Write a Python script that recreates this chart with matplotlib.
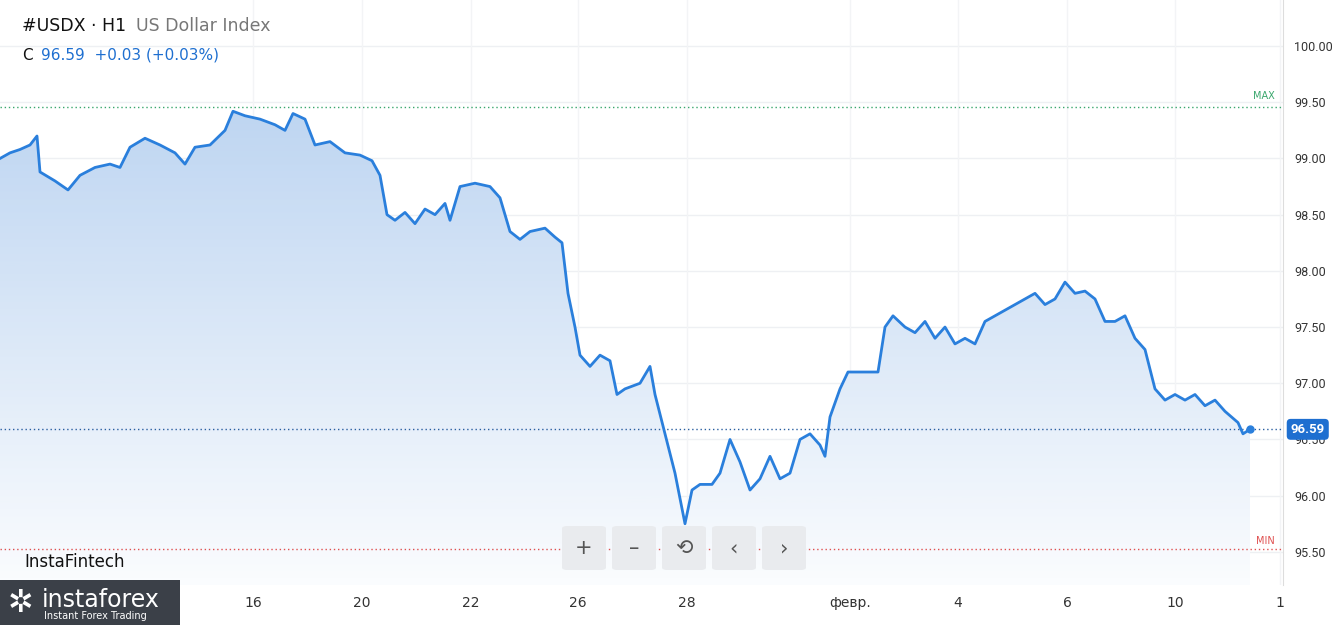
import matplotlib.pyplot as plt
import numpy as np
from matplotlib.patches import FancyBboxPatch

# time position (chart units, ~2.25 per hour) and close values
t = [0, 10, 20, 30, 37, 40, 55, 68, 80, 95, 110, 120, 130, 145, 160, 175, 185, 195, 210, 225,
     233, 245, 260, 275, 285, 293, 305, 315, 330, 345, 360, 372, 380, 387, 395, 405, 415, 425, 435, 445,
     450, 460, 475, 490, 500, 510, 520, 530, 545, 555, 562, 568, 575, 580, 590, 600, 610, 617, 625, 640,
     650, 655, 665, 675, 685, 692, 700, 712, 720, 730, 740, 750, 760, 770, 780, 790, 800, 810, 820, 825,
     830, 840, 848, 860, 878, 885, 893, 905, 915, 925, 935, 945, 955, 965, 975, 985, 995, 1005, 1015, 1025,
     1035, 1045, 1055, 1065, 1075, 1085, 1095, 1105, 1115, 1125, 1135, 1145, 1155, 1165, 1175, 1185, 1195, 1205, 1215, 1225,
     1238, 1243, 1250]
price = [99.0, 99.05, 99.08, 99.12, 99.2, 98.88, 98.8, 98.72, 98.85, 98.92, 98.95, 98.92, 99.1, 99.18, 99.12, 99.05, 98.95, 99.1, 99.12, 99.25,
         99.42, 99.38, 99.35, 99.3, 99.25, 99.4, 99.35, 99.12, 99.15, 99.05, 99.03, 98.98, 98.85, 98.5, 98.45, 98.52, 98.42, 98.55, 98.5, 98.6,
         98.45, 98.75, 98.78, 98.75, 98.65, 98.35, 98.28, 98.35, 98.38, 98.3, 98.25, 97.8, 97.5, 97.25, 97.15, 97.25, 97.2, 96.9, 96.95, 97.0,
         97.15, 96.9, 96.55, 96.2, 95.75, 96.05, 96.1, 96.1, 96.2, 96.5, 96.3, 96.05, 96.15, 96.35, 96.15, 96.2, 96.5, 96.55, 96.45, 96.35,
         96.7, 96.95, 97.1, 97.1, 97.1, 97.5, 97.6, 97.5, 97.45, 97.55, 97.4, 97.5, 97.35, 97.4, 97.35, 97.55, 97.6, 97.65, 97.7, 97.75,
         97.8, 97.7, 97.75, 97.9, 97.8, 97.82, 97.75, 97.55, 97.55, 97.6, 97.4, 97.3, 96.95, 96.85, 96.9, 96.85, 96.9, 96.8, 96.85, 96.75,
         96.65, 96.55, 96.59]
xtick_pos = [253, 362, 471, 578, 687, 850, 958, 1067, 1175, 1280]
xtick_lab = ["16", "20", "22", "26", "28", "февр.", "4", "6", "10", "1"]
yticks = [95.5, 96.0, 96.5, 97.0, 97.5, 98.0, 98.5, 99.0, 99.5, 100.0]
max_v, min_v, last = 99.46, 95.525, 96.59

fig = plt.figure(figsize=(13.38, 6.25), dpi=100)
ax = fig.add_axes([0, 40 / 625, 1283 / 1338, 585 / 625])
ymin, ymax = 95.205, 100.41
ax.set_xlim(0, 1283)
ax.set_ylim(ymin, ymax)

# gradient fill under the line
grad = np.linspace(0.02, 0.35, 256).reshape(-1, 1)
img = ax.imshow(grad, extent=[0, 1283, ymin, ymax], origin="lower", aspect="auto",
                cmap=plt.matplotlib.colors.LinearSegmentedColormap.from_list("b", ["#ffffff", "#1e6fd0"]),
                vmin=0, vmax=1, zorder=1)
poly = ax.fill_between(t, price, ymin, color="none")
img.set_clip_path(poly.get_paths()[0], transform=ax.transData)
ax.plot(t, price, color="#2a7fdc", lw=2, zorder=3)
ax.plot(t[-1], price[-1], "o", color="#2a7fdc", ms=5, zorder=4)

for y in yticks:
    ax.axhline(y, color="#eef0f3", lw=1, zorder=0)
for x in xtick_pos:
    ax.axvline(x, color="#f3f4f6", lw=1, zorder=0)
ax.axhline(max_v, color="#3aa76d", lw=1, ls=(0, (1, 2)), zorder=2)
ax.axhline(min_v, color="#e05050", lw=1, ls=(0, (1, 2)), zorder=2)
ax.axhline(last, color="#2a5fa0", lw=1, ls=(0, (1, 2)), zorder=2)
ax.text(1275, max_v + 0.05, "MAX", color="#3aa76d", fontsize=7, ha="right", va="bottom")
ax.text(1275, min_v + 0.03, "MIN", color="#e05050", fontsize=7, ha="right", va="bottom")

ax.yaxis.tick_right()
ax.set_yticks(yticks)
ax.set_yticklabels([f"{v:.2f}" for v in yticks], fontsize=9, color="#333333", family="Roboto")
ax.set_xticks(xtick_pos)
ax.set_xticklabels(xtick_lab, fontsize=10, color="#333333")
ax.tick_params(axis="x", length=0, pad=8)
ax.tick_params(axis="y", length=0, pad=8)
for s in ["top", "left", "bottom"]:
    ax.spines[s].set_visible(False)
ax.spines["right"].set_color("#dddddd")

ax.text(1.006, last, f"{last:.2f}", transform=ax.get_yaxis_transform(), ha="left", va="center",
        color="white", fontsize=9.5, fontweight="bold", family="Roboto",
        bbox=dict(boxstyle="round,pad=0.3", fc="#1e6fd0", ec="none"))

fig.text(22 / 1338, 1 - 26 / 625, "#USDX · H1", fontsize=12.5, va="center", color="#111111")
fig.text(136 / 1338, 1 - 26 / 625, "US Dollar Index", fontsize=12.5, va="center", color="#777777")
fig.text(22 / 1338, 1 - 55 / 625, "C", fontsize=11, va="center", color="#111111")
fig.text(41 / 1338, 1 - 55 / 625, "96.59  +0.03 (+0.03%)", fontsize=11, va="center", color="#1e6fd0")
fig.text(24 / 1338, 1 - 562 / 625, "InstaFintech", fontsize=12, va="center", color="#111111")

# zoom buttons
for i, s in enumerate(["+", "–", "⟲", "‹", "›"]):
    x0 = 562 + i * 50
    fig.patches.append(FancyBboxPatch((x0 / 1338, 1 - 570 / 625), 44 / 1338, 44 / 625,
                                      boxstyle="round,pad=0,rounding_size=0.004",
                                      transform=fig.transFigure, fc="#e9ebee", ec="none", zorder=5))
    fig.text((x0 + 22) / 1338, 1 - 548 / 625, s, fontsize=15, ha="center", va="center",
             color="#555555", zorder=6)

# logo
fig.patches.append(FancyBboxPatch((0, 0), 180 / 1338, 45 / 625, boxstyle="square,pad=0",
                                  transform=fig.transFigure, fc="#3b4048", ec="none", zorder=5))
fig.text(42 / 1338, 1 - 600 / 625, "instaforex", fontsize=17, color="white", va="center", zorder=6)
fig.text(44 / 1338, 1 - 616 / 625, "Instant Forex Trading", fontsize=7, color="white", va="center", zorder=6)
fig.text(20 / 1338, 1 - 603 / 625, "✲", fontsize=22, color="white", ha="center", va="center", zorder=6)

fig.savefig("out.png", dpi=100)
